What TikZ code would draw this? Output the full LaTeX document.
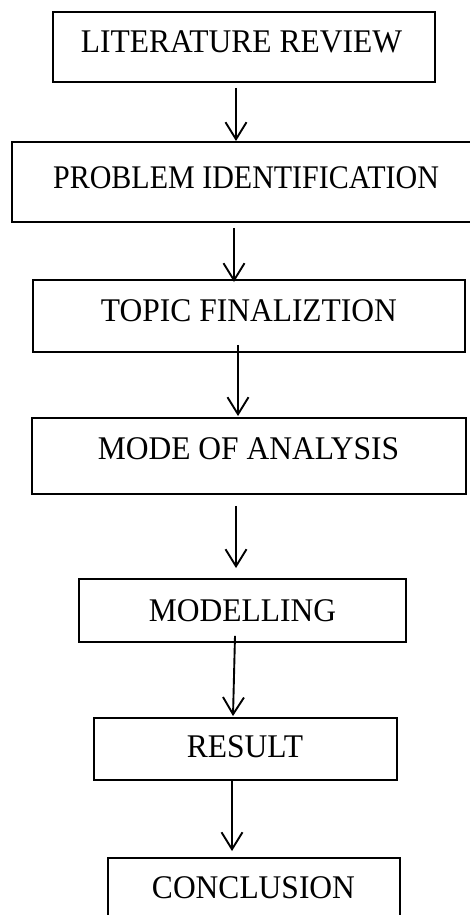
\documentclass[tikz,border=0pt]{standalone}
\usepackage{fontspec}
\setmainfont{Liberation Serif}
\usetikzlibrary{arrows.meta,calc}

\tikzset{
  stepbox/.style={draw=black, line width=1.9pt, rectangle, inner sep=0pt},
  steplabel/.style={anchor=base, inner sep=0pt,
    font=\fontsize{31.5pt}{36pt}\selectfont},
  flow/.style={line width=1.9pt,
    -{Straight Barb[length=17pt,width=21pt,line width=1.9pt]}}
}
\newcommand{\tallcaps}[1]{\scalebox{1}[1.05]{#1}}

\begin{document}
\begin{tikzpicture}[x=1pt,y=-1pt]
  \useasboundingbox (0,0) rectangle (470,915);
  \clip (0,0) rectangle (470,915);

  % process boxes
  \node[stepbox, minimum width=382pt, minimum height=70pt] (b1) at (244,47) {};
  \node[stepbox, minimum width=478pt, minimum height=80pt] (b2) at (251,182) {};
  \node[stepbox, minimum width=432pt, minimum height=72pt] (b3) at (249,316) {};
  \node[stepbox, minimum width=434pt, minimum height=76pt] (b4) at (249,456) {};
  \node[stepbox, minimum width=327pt, minimum height=63pt] (b5) at (242.5,610.5) {};
  \node[stepbox, minimum width=303pt, minimum height=62pt] (b6) at (245.5,749) {};
  \node[stepbox, minimum width=292pt, minimum height=77pt] (b7) at (254,896.5) {};

  % box captions
  \node[steplabel] (t1) at (241.5,53) {\tallcaps{LITERATURE REVIEW}};
  \node[steplabel, font=\fontsize{30pt}{36pt}\selectfont] (t2) at (246,188) {\scalebox{1}[1.1]{PROBLEM IDENTIFICATION}};
  \node[steplabel] (t3) at (249,321) {\tallcaps{TOPIC FINALIZTION}};
  \node[steplabel] (t4) at (248.5,459) {\tallcaps{MODE OF ANALYSIS}};
  \node[steplabel] (t5) at (242.5,621) {\tallcaps{MODELLING}};
  \node[steplabel] (t6) at (245,757) {\tallcaps{RESULT}};
  \node[steplabel] (t7) at (253.5,898) {\tallcaps{CONCLUSION}};

  % connectors
  \draw[flow] ($(b1.south)+(-8,5)$) -- ($(b2.north)+(-15,0)$);
  \draw[flow] ($(b2.south)+(-17,5)$) -- ($(b3.north)+(-15,3)$);
  \draw[flow] ($(b3.south)+(-11,-8)$) -- ($(b4.north)+(-11,-1)$);
  \draw[flow] ($(b4.south)+(-13,11)$) -- ($(b5.north)+(-6.5,-10)$);
  \draw[flow] ($(b5.south)+(-7.5,-7)$) -- ($(b6.north)+(-12.5,-1)$);
  \draw[flow] ($(b6.south)+(-13.5,0)$) -- ($(b7.north)+(-22,-6)$);
\end{tikzpicture}
\end{document}
